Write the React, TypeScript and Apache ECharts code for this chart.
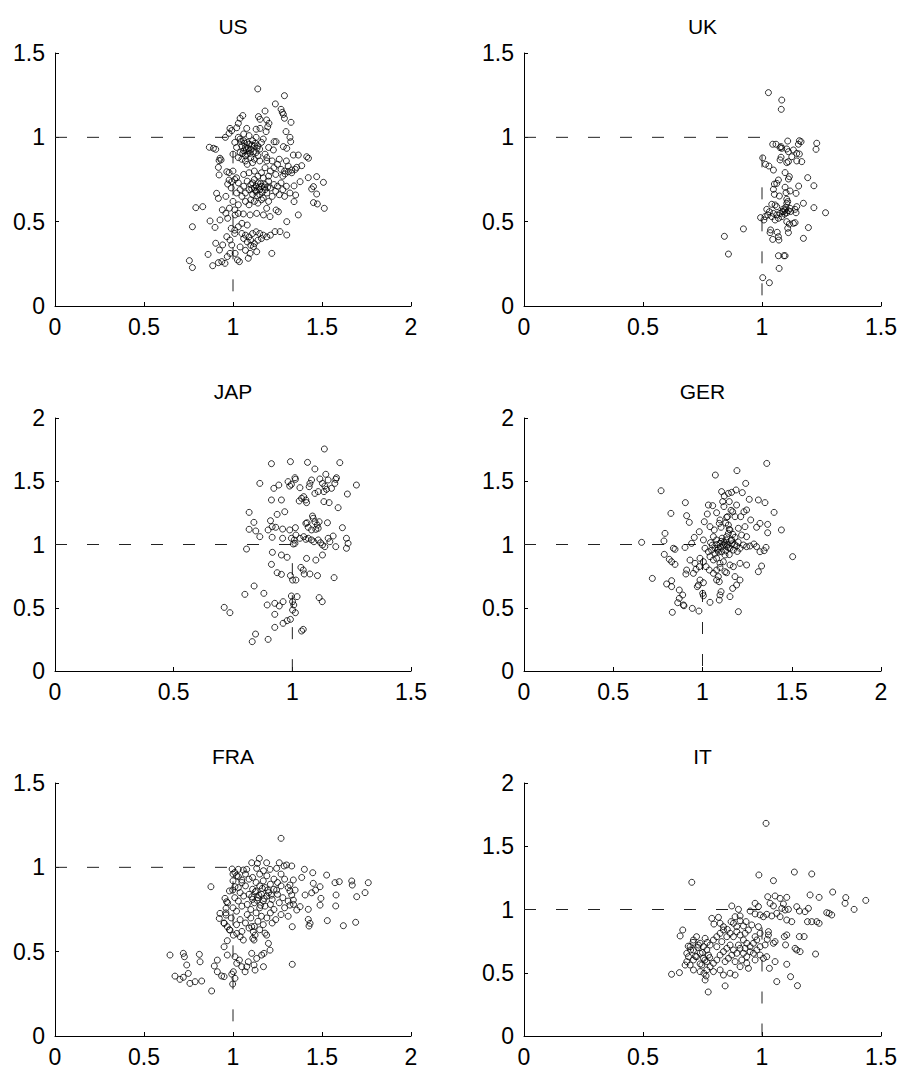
import React, { useEffect, useRef } from "react";
import * as echarts from "echarts";

const panelTitles = ["US", "UK", "JAP", "GER", "FRA", "IT"];
const xMaxes = [2, 1.5, 1.5, 2, 2, 1.5];
const yMaxes = [1.5, 1.5, 2, 2, 1.5, 2];
const tickStep = 0.5;
const refLine = [[0, 1], [1, 1], [1, 0]];

const usPoints = [
  [1.139,1.287],[1.289,1.247],[1.238,1.198],[1.270,1.166],[1.277,1.148],[1.283,1.136],[1.180,1.156],[1.326,1.089],[1.289,1.113],[1.143,1.123],[1.152,1.107],[1.189,1.103],[1.202,1.083],[1.195,1.063],[1.186,1.034],[1.055,1.129],[1.040,1.113],[1.030,1.083],[1.021,1.057],[0.983,1.053],[0.993,1.040],[0.978,1.024],[1.077,1.053],[1.130,1.048],[1.152,1.053],[1.298,1.034],[1.320,1.000],[1.324,0.974],[1.302,0.935],[1.283,0.945],[1.231,0.974],[1.242,0.974],[1.227,0.925],[0.957,1.000],[0.867,0.941],[0.890,0.935],[0.903,0.929],[0.927,0.876],[0.922,0.862],[0.933,0.866],[0.918,0.822],[0.922,0.777],[0.965,0.796],[0.978,0.791],[0.978,0.747],[0.993,0.737],[0.970,0.723],[0.908,0.668],[0.918,0.638],[0.791,0.583],[0.830,0.589],[0.772,0.470],[0.755,0.269],[0.772,0.228],[0.860,0.306],[0.886,0.239],[0.918,0.257],[0.903,0.372],[0.942,0.362],[0.924,0.332],[0.871,0.504],[0.899,0.466],[0.927,0.510],
  [1.04,0.99],[1.06,0.98],[1.08,0.97],[1.05,0.95],[1.07,0.94],[1.09,0.96],[1.10,0.93],[1.12,0.95],[1.11,0.98],[1.13,0.91],[1.06,0.92],[1.08,0.90],[1.04,0.91],[1.02,0.94],[1.03,0.88],[1.05,0.87],[1.07,0.86],[1.10,0.88],[1.12,0.87],[1.14,0.89],[1.15,0.93],[1.16,0.97],[1.13,1.00],[1.09,1.01],[1.06,1.02],[1.01,0.97],[1.00,0.90],[1.08,0.84],[1.11,0.85],[1.15,0.86],[1.18,0.90],[1.20,0.94],[1.17,0.99],[1.03,1.00],[1.09,0.92],[1.07,0.89],[1.14,0.95],[1.19,0.86],
  [1.065,0.965],[1.085,0.935],[1.095,0.905],[1.115,0.915],[1.055,0.905],[1.075,0.925],[1.125,0.965],[1.045,0.975],[1.105,0.955],[1.135,0.935],
  [1.19,0.88],[1.22,0.86],[1.25,0.84],[1.23,0.82],[1.27,0.81],[1.29,0.80],[1.31,0.83],[1.26,0.87],[1.21,0.80],[1.18,0.82],[1.16,0.79],[1.24,0.78],[1.28,0.77],[1.33,0.79],[1.35,0.81],[1.30,0.86],[1.20,0.77],
  [1.08,0.74],[1.10,0.72],[1.12,0.70],[1.14,0.73],[1.16,0.71],[1.18,0.69],[1.13,0.68],[1.11,0.66],[1.09,0.69],[1.07,0.67],[1.06,0.71],[1.15,0.66],[1.17,0.64],[1.19,0.67],[1.21,0.70],[1.23,0.72],[1.20,0.74],[1.17,0.76],[1.14,0.77],[1.12,0.75],[1.10,0.63],[1.12,0.62],[1.14,0.61],[1.16,0.63],[1.22,0.65],[1.24,0.68],[1.26,0.66],[1.25,0.71],[1.27,0.73],[1.18,0.72],[1.15,0.69],[1.13,0.71],[1.11,0.73],[1.05,0.65],[1.04,0.69],[1.07,0.62],[1.09,0.60],[1.20,0.62],[1.28,0.69],[1.30,0.71],[1.29,0.65],[1.32,0.67],[1.03,0.73],[1.02,0.76],[1.06,0.78],[1.09,0.79],[1.12,0.80],
  [1.125,0.685],[1.145,0.705],[1.165,0.675],[1.135,0.655],[1.155,0.725],[1.105,0.695],[1.175,0.705],[1.195,0.705],
  [1.00,0.80],[1.01,0.75],[0.99,0.70],[1.02,0.67],[1.00,0.62],[0.98,0.58],[1.01,0.57],[1.03,0.60],[0.96,0.65],
  [1.423,0.761],[1.470,0.767],[1.508,0.733],[1.452,0.708],[1.442,0.694],[1.470,0.664],[1.452,0.613],[1.474,0.605],[1.513,0.579],[1.367,0.540],[1.343,0.712],[1.377,0.737],[1.352,0.658],[1.343,0.619],[1.414,0.885],[1.424,0.876],[1.367,0.895],[1.339,0.895],[1.386,0.832],[1.358,0.822],[1.330,0.806],[1.311,0.796],[1.292,0.783],
  [1.218,0.312],[1.302,0.500],[1.302,0.421],[1.264,0.441],[1.236,0.441],[1.255,0.559],[1.242,0.569],[1.189,0.579],[1.208,0.530],[1.171,0.540],[1.133,0.549],[1.096,0.540],[1.058,0.546],[1.030,0.549],[1.012,0.540],[0.965,0.411],[0.983,0.391],[0.993,0.362],[1.012,0.312],[1.025,0.273],[1.036,0.263],[0.983,0.312],[0.968,0.293],[0.937,0.263],[0.955,0.253],[1.086,0.283],[1.096,0.312],[1.133,0.322],[1.115,0.352],
  [1.05,0.43],[1.07,0.42],[1.09,0.41],[1.11,0.43],[1.13,0.44],[1.15,0.43],[1.17,0.42],[1.19,0.41],[1.21,0.42],[1.06,0.40],[1.08,0.38],[1.10,0.36],[1.12,0.37],[1.14,0.39],[1.10,0.39],[1.16,0.40],[1.01,0.45],[0.99,0.46],[1.03,0.47],[1.05,0.49],[1.08,0.48],[1.01,0.43],[1.04,0.35],[1.07,0.33],
  [0.96,0.55],[0.97,0.52],[0.94,0.57]
];

const ukPoints = [
  [1.027,1.265],[1.083,1.221],[1.081,1.166],[1.045,0.959],[1.059,0.959],[1.076,0.939],[1.083,0.935],[1.080,0.945],[1.108,0.978],[1.157,0.980],[1.164,0.974],[1.153,0.959],[1.230,0.965],[1.227,0.929],[1.132,0.925],[1.146,0.905],[1.157,0.901],[1.104,0.931],[1.111,0.915],[1.080,0.882],[1.076,0.866],[1.104,0.850],[1.111,0.856],[1.125,0.885],[1.146,0.860],[1.167,0.856],[1.003,0.878],[1.015,0.840],[1.029,0.830],[1.048,0.806],[1.097,0.791],[1.115,0.767],[1.111,0.753],[1.069,0.747],[1.062,0.727],[1.052,0.723],[1.048,0.692],[1.192,0.761],[1.218,0.713],[1.154,0.711],[1.097,0.704],[1.101,0.672],[1.118,0.682],[1.143,0.668],[1.052,0.662],[1.073,0.652],[1.104,0.633],[1.108,0.619],[1.104,0.609],[1.174,0.609],[1.218,0.583],[1.267,0.553],[1.146,0.589],[1.139,0.573],[1.041,0.603],[1.055,0.599],[1.062,0.589],
  [1.020,0.573],[1.031,0.559],[1.048,0.549],[1.062,0.540],[1.076,0.549],[1.090,0.559],[1.097,0.569],[1.104,0.553],[1.111,0.565],[1.118,0.579],[1.083,0.530],[1.069,0.520],[1.055,0.510],[1.041,0.530],[1.024,0.540],[1.013,0.530],[0.994,0.524],[1.008,0.510],[1.143,0.553],
  [1.104,0.500],[1.115,0.486],[1.132,0.490],[1.139,0.494],[1.108,0.461],[1.111,0.435],[1.195,0.465],[1.174,0.401],[1.036,0.451],[1.034,0.435],[1.064,0.437],[1.069,0.411],[1.071,0.391],[1.045,0.395],[0.922,0.457],[0.842,0.413],[0.859,0.308],[1.069,0.298],[1.092,0.298],[1.097,0.298],[1.072,0.223],[1.003,0.168],[1.031,0.138],
  [1.090,0.575],[1.100,0.585],[1.085,0.560],[1.095,0.545],[1.120,0.560]
];

const japPoints = [
  [1.135,1.755],[0.912,1.639],[0.992,1.655],[1.064,1.649],[1.200,1.647],[1.095,1.597],[1.141,1.555],[1.011,1.528],[1.013,1.515],[0.982,1.497],[0.989,1.462],[0.996,1.475],[1.032,1.449],[1.074,1.483],[1.081,1.510],[1.071,1.457],[1.116,1.518],[1.127,1.483],[1.137,1.462],[1.144,1.436],[1.133,1.418],[1.151,1.510],[1.165,1.444],[1.179,1.483],[1.186,1.528],[1.183,1.515],[1.270,1.470],[1.232,1.399],[0.863,1.483],[0.922,1.444],[0.943,1.470],[0.912,1.352],[0.954,1.352],[1.029,1.344],[1.039,1.365],[1.057,1.352],[1.060,1.331],[1.048,1.378],[1.133,1.339],[1.155,1.331],[1.193,1.291],[1.109,1.418],[1.095,1.404],
  [0.818,1.254],[0.936,1.238],[0.968,1.259],[0.838,1.175],[0.818,1.120],[0.846,1.107],[0.863,1.062],[0.908,1.188],[0.915,1.141],[0.898,1.115],[0.930,1.136],[0.959,1.122],[0.989,1.115],[1.013,1.133],[0.915,1.057],[0.959,1.049],[0.996,1.049],[1.008,1.035],[1.011,1.009],[1.004,1.004],[1.015,1.075],
  [1.057,1.167],[1.062,1.172],[1.085,1.225],[1.088,1.207],[1.095,1.180],[1.105,1.154],[1.113,1.180],[1.109,1.128],[1.099,1.120],[1.081,1.115],[1.067,1.136],[1.148,1.172],[1.211,1.133],
  [1.032,1.049],[1.048,1.062],[1.057,1.041],[1.067,1.049],[1.081,1.036],[1.091,1.022],[1.109,1.036],[1.119,1.014],[1.127,0.996],[1.137,0.983],[1.151,1.049],[1.158,1.022],[1.172,1.067],[1.183,0.983],[1.228,1.049],[1.235,1.009],[1.228,0.970],
  [0.807,0.964],[0.916,0.938],[0.954,0.917],[0.978,0.899],[0.912,0.843],[1.060,0.890],[1.099,0.877],[1.127,0.917],[0.936,0.777],[0.954,0.764],[0.992,0.754],[1.001,0.719],[1.015,0.719],[1.036,0.819],[1.046,0.798],[1.050,0.767],[1.074,0.767],[1.106,0.754],[1.176,0.738],
  [0.839,0.672],[0.800,0.606],[0.880,0.614],[1.113,0.580],[1.126,0.548],[0.713,0.503],[0.737,0.461],[0.894,0.522],[0.926,0.535],[0.945,0.514],[0.961,0.548],[0.996,0.593],[1.020,0.588],[1.001,0.548],[1.006,0.522],[1.001,0.482],[0.926,0.448],[0.961,0.377],[0.978,0.398],[0.992,0.408],[1.013,0.461],[0.926,0.345],[1.039,0.316],[1.046,0.329],[0.845,0.292],[0.831,0.232],[0.898,0.250]
];

const gerPoints = [
  [1.360,1.641],[1.193,1.584],[1.072,1.549],[1.242,1.483],[0.768,1.425],[1.107,1.418],[1.122,1.383],[1.145,1.404],[1.163,1.412],[1.188,1.431],[1.223,1.410],[1.262,1.357],[1.313,1.352],[1.350,1.331],[0.904,1.331],[1.033,1.312],[1.057,1.307],[1.113,1.339],[1.150,1.339],[1.191,1.312],[1.401,1.254],[1.442,1.115],[0.823,1.246],[0.911,1.228],[0.926,1.175],
  [1.027,1.241],[1.079,1.251],[1.098,1.194],[1.135,1.215],[1.169,1.259],[1.182,1.220],[1.214,1.220],[1.232,1.259],[1.247,1.273],[1.270,1.194],[1.303,1.136],[1.322,1.167],[1.365,1.159],[1.365,1.093],
  [1.010,1.180],[1.042,1.141],[1.066,1.115],[1.094,1.167],[1.104,1.136],[1.145,1.154],[1.154,1.115],[1.201,1.128],[1.238,1.141],
  [0.790,1.088],[0.784,1.028],[0.659,1.017],[0.982,1.101],[1.005,1.036],[0.954,1.056],[0.939,1.009],[0.902,0.977],[0.837,0.970],[0.846,0.962],
  [1.061,1.062],[1.079,1.036],[1.098,1.009],[1.117,0.996],[1.135,0.983],[1.154,0.970],[1.173,0.956],[1.191,0.988],[1.210,0.970],[1.229,0.996],[1.247,0.983],[1.266,0.988],[1.288,1.004],[1.303,0.983],[1.322,0.943],[1.345,0.951],[1.356,0.977],
  [1.135,1.062],[1.145,1.088],[1.132,1.036],[1.163,1.036],[1.182,1.057],[1.219,1.075],[1.247,1.062],[1.505,0.904],
  [1.014,0.970],[1.033,0.943],[1.051,0.956],[1.070,0.930],[1.089,0.970],[1.107,0.943],[1.126,0.917],[1.042,0.904],[1.061,0.878],[1.079,0.891],[1.098,0.851],[1.117,0.864],
  [0.786,0.922],[0.814,0.883],[0.827,0.864],[0.846,0.843],[0.930,0.877],[0.958,0.851],[0.986,0.891],[1.005,0.864],[0.982,0.825],[0.964,0.804],[0.911,0.798],[0.907,0.767],[0.949,0.772],
  [1.020,0.825],[1.038,0.798],[1.061,0.772],[1.079,0.798],[1.098,0.819],[1.126,0.785],[1.135,0.777],[1.154,0.838],[1.173,0.825],[1.210,0.851],[1.247,0.838],[1.331,0.830],[1.313,0.785],
  [0.719,0.732],[0.799,0.688],[0.827,0.714],[0.827,0.667],[0.986,0.719],[1.005,0.698],[0.977,0.680],[0.971,0.667],[1.089,0.746],[1.079,0.719],[1.094,0.706],[1.182,0.746],[1.210,0.719],[1.191,0.680],[1.169,0.653],
  [0.870,0.640],[0.889,0.601],[0.870,0.574],[0.861,0.540],[0.893,0.522],[0.896,0.516],[1.001,0.614],[1.005,0.595],[1.104,0.627],[1.098,0.601],[1.094,0.561],[1.154,0.588],[1.042,0.543],[0.831,0.464],[0.943,0.495],[0.980,0.474],[1.201,0.469],
  [1.08,1.00],[1.10,0.98],[1.12,1.02],[1.14,1.00],[1.16,1.03],[1.11,1.05],[1.13,0.95],[1.15,0.92],[1.07,0.97],[1.18,1.00],[1.20,1.02],[1.09,0.94],[1.17,1.08],[1.15,1.12],[1.13,1.17],[1.14,1.22],[1.16,1.27],[1.12,1.30],
  [1.055,0.995],[1.125,1.005],[1.145,0.975],[1.105,1.025],[1.165,1.005],[1.085,0.955],[1.195,0.945],[1.045,1.015]
];

const fraPoints = [
  [1.270,1.172],[1.148,1.053],[1.189,1.027],[1.137,1.023],[1.105,1.027],[1.245,0.994],[1.260,1.027],[1.287,1.008],[1.330,1.008],[1.301,1.014],[1.030,0.988],[1.058,0.984],[1.077,0.988],[1.133,0.994],[1.171,0.980],[1.208,0.988],
  [1.401,0.988],[1.448,0.968],[1.386,0.940],[1.526,0.954],[1.573,0.909],[1.597,0.915],[1.667,0.919],[1.670,0.895],[1.760,0.909],[0.876,0.885],
  [1.451,0.905],[1.489,0.885],[1.464,0.865],[1.442,0.849],[1.494,0.816],[1.489,0.776],[1.579,0.836],[1.577,0.771],[1.695,0.826],[1.742,0.850],[1.530,0.684],[1.620,0.654],[1.689,0.674],[1.423,0.691],[1.433,0.668],[1.427,0.652],
  [1.339,0.925],[1.320,0.895],[1.349,0.865],[1.330,0.836],[1.339,0.806],[1.320,0.776],[1.358,0.747],[1.377,0.767],[1.405,0.836],[1.423,0.751],[1.333,0.648],[1.333,0.425],
  [1.02,0.95],[1.07,0.96],[1.11,0.94],[1.15,0.96],[1.19,0.95],[1.23,0.93],[1.27,0.96],
  [1.00,0.92],[1.05,0.91],[1.09,0.93],[1.13,0.91],[1.17,0.92],[1.21,0.90],[1.25,0.91],[1.29,0.93],
  [1.03,0.88],[1.07,0.89],[1.11,0.87],[1.15,0.89],[1.18,0.88],[1.23,0.87],[1.27,0.89],[1.31,0.88],
  [0.98,0.86],[1.04,0.85],[1.09,0.84],[1.13,0.86],[1.16,0.84],[1.20,0.85],[1.25,0.84],[1.32,0.86],
  [1.01,0.82],[1.06,0.83],[1.11,0.81],[1.14,0.82],[1.19,0.83],[1.22,0.81],[1.28,0.82],
  [0.97,0.79],[1.03,0.80],[1.08,0.78],[1.12,0.79],[1.17,0.80],[1.21,0.78],[1.26,0.79],[1.31,0.80],
  [1.00,0.76],[1.05,0.77],[1.10,0.75],[1.15,0.76],[1.18,0.77],[1.23,0.75],[1.29,0.76],[1.34,0.78],
  [0.96,0.73],[1.02,0.74],[1.08,0.72],[1.13,0.73],[1.16,0.71],[1.21,0.73],[1.27,0.72],
  [0.99,0.70],[1.04,0.69],[1.10,0.70],[1.14,0.68],[1.19,0.70],[1.24,0.69],[1.31,0.71],
  [0.95,0.67],[1.02,0.66],[1.07,0.67],[1.12,0.65],[1.17,0.66],[1.22,0.67],
  [0.98,0.63],[1.05,0.62],[1.09,0.64],[1.15,0.63],[1.18,0.61],
  [1.125,0.855],[1.145,0.835],[1.165,0.875],[1.135,0.805],[1.105,0.825],[1.175,0.815],[1.155,0.775],[1.195,0.865],[1.215,0.835],[1.245,0.865],
  [0.995,0.99],[1.00,0.96],[1.01,0.97],
  [0.646,0.480],[0.721,0.490],[0.727,0.470],[0.740,0.421],[0.811,0.484],[0.815,0.440],[0.674,0.355],[0.702,0.336],[0.721,0.348],[0.749,0.371],[0.758,0.312],[0.787,0.322],[0.824,0.326],[0.880,0.267],
  [0.912,0.450],[0.895,0.415],[0.912,0.381],[0.936,0.356],[0.950,0.352],[0.968,0.480],[0.993,0.367],[1.002,0.381],[1.011,0.342],[0.998,0.308],
  [0.950,0.529],[0.968,0.565],[1.011,0.470],[1.021,0.431],[1.036,0.450],[1.049,0.411],[1.068,0.381],[1.077,0.411],[1.086,0.440],[1.105,0.490],[1.118,0.421],[1.124,0.391],[1.133,0.460],[1.171,0.411],[1.161,0.480],[1.174,0.490],[1.208,0.509],[1.199,0.549],[1.189,0.598],
  [0.927,0.727],[0.923,0.697],[0.961,0.717],[0.950,0.668],[0.968,0.648],[0.983,0.628],[1.002,0.598],[1.021,0.608],[1.040,0.589],[1.058,0.569],
  [1.105,0.648],[1.114,0.618],[1.124,0.598],[1.111,0.579],[1.118,0.569],
  [1.030,0.944],[1.049,0.925],[1.011,0.885],[0.998,0.865],[0.955,0.816],[0.964,0.796],[0.961,0.757]
];

const itPoints = [
  [1.017,1.681],[0.705,1.215],[0.987,1.273],[1.048,1.228],[1.136,1.296],[1.209,1.281],[1.297,1.138],[1.352,1.094],[1.349,1.049],[1.387,1.001],[1.436,1.072],[1.202,1.115],[1.240,1.096],
  [1.024,1.101],[1.055,1.107],[1.076,1.088],[1.104,1.096],[0.971,1.049],[0.985,1.023],[1.034,1.049],[1.048,1.028],[1.090,1.044],[1.083,1.009],[1.097,0.996],[1.111,1.001],[1.146,1.022],[1.157,0.988],[1.181,0.983],[1.195,1.009],
  [1.272,0.975],[1.282,0.970],[1.293,0.957],[1.191,0.904],[1.209,0.904],[1.230,0.904],[1.240,0.891],
  [0.873,1.028],[0.901,1.001],[0.908,0.949],[0.887,0.943],[0.950,0.988],[0.971,0.965],[0.992,0.957],[1.006,0.943],[1.020,0.962],[1.041,0.949],[1.062,0.970],[1.076,0.943],[1.104,0.917],[1.125,0.904],
  [0.789,0.930],[0.817,0.938],[0.798,0.885],[0.870,0.904],[0.908,0.912],[0.933,0.904],[0.922,0.870],[0.957,0.878],[0.667,0.838],[0.656,0.791],
  [1.027,0.825],[1.027,0.799],[1.022,0.764],[1.013,0.720],[1.104,0.799],[1.094,0.786],[1.055,0.746],[1.048,0.733],[1.099,0.720],[1.139,0.693],[1.146,0.680],[1.160,0.667],[1.157,0.786],[1.177,0.786],[1.225,0.648],
  [1.020,0.627],[1.055,0.588],[1.031,0.535],[1.104,0.567],[1.062,0.430],[1.120,0.469],[1.149,0.398],[0.620,0.488],[0.653,0.501],[0.774,0.348],[0.845,0.396],[0.761,0.443],[0.765,0.475],[0.756,0.496],
  [0.684,0.654],[0.698,0.706],[0.712,0.759],[0.725,0.785],[0.740,0.733],[0.754,0.706],[0.768,0.680],[0.782,0.719],[0.796,0.759],[0.810,0.785],[0.824,0.812],[0.838,0.838],[0.852,0.785],[0.866,0.812],[0.880,0.785],[0.894,0.825],[0.908,0.798],[0.922,0.759],[0.936,0.733],[0.950,0.706],[0.964,0.733],[0.978,0.759],
  [0.684,0.588],[0.698,0.561],[0.712,0.601],[0.725,0.627],[0.740,0.654],[0.754,0.614],[0.768,0.588],[0.782,0.548],[0.796,0.575],[0.810,0.601],[0.824,0.640],[0.838,0.667],[0.852,0.693],[0.866,0.719],[0.880,0.680],[0.894,0.654],[0.908,0.693],[0.922,0.654],[0.936,0.627],[0.950,0.667],[0.964,0.654],[0.978,0.680],[0.992,0.706],
  [0.712,0.522],[0.740,0.509],[0.768,0.522],[0.796,0.509],[0.824,0.522],[0.838,0.482],[0.866,0.496],[0.887,0.482],[0.908,0.548],[0.936,0.575],
  [0.712,0.680],[0.733,0.719],[0.761,0.772],[0.831,0.746],[0.859,0.614],[0.887,0.588],[0.915,0.601],[0.943,0.535],[0.677,0.561],[0.691,0.627],[0.747,0.561],[0.775,0.640],[0.810,0.706],[0.845,0.588],[0.873,0.640],[0.901,0.719],[0.929,0.693],[0.971,0.601],[0.992,0.640],[1.006,0.614],
  [0.73,0.70],[0.75,0.66],[0.72,0.63],[0.76,0.60],[0.70,0.68],[0.74,0.57],[0.78,0.62],[0.71,0.74],[0.69,0.71],[0.77,0.74],
  [0.838,0.864],[0.854,0.843],[0.894,0.864],[0.880,0.891],[0.824,0.891],[0.943,0.838],[0.929,0.812],[0.985,0.864],[0.992,0.812],[0.971,0.785]
];

const panelPoints = [usPoints, ukPoints, japPoints, gerPoints, fraPoints, itPoints];

const FONT = "Liberation Sans, Arial, sans-serif";

export default function App() {
  const ref = useRef<HTMLDivElement>(null);

  useEffect(() => {
    if (!ref.current) return;
    const chart = echarts.init(ref.current, null, { renderer: "svg" });

    const colLeft = [55, 524];
    const colWidth = [356, 357];
    const rowTop = [53, 418, 783];
    const plotH = 253;

    const grids: any[] = [];
    const xAxes: any[] = [];
    const yAxes: any[] = [];
    const series: any[] = [];
    const titles: any[] = [];

    panelTitles.forEach((title, i) => {
      const col = i % 2;
      const row = Math.floor(i / 2);
      const left = colLeft[col];
      const top = rowTop[row];
      const width = colWidth[col];
      grids.push({ left, top, width, height: plotH, containLabel: false });
      const axisCommon = {
        type: "value",
        gridIndex: i,
        min: 0,
        interval: tickStep,
        splitLine: { show: false },
        axisLine: { show: true, onZero: false, lineStyle: { color: "#000", width: 1 } },
        axisTick: { show: true, inside: true, length: 4, lineStyle: { color: "#000", width: 1 } },
        axisLabel: { color: "#000", fontSize: 23, fontFamily: FONT, margin: 9 },
      };
      xAxes.push({ ...axisCommon, max: xMaxes[i] });
      yAxes.push({ ...axisCommon, max: yMaxes[i], axisLabel: { ...axisCommon.axisLabel, margin: 10 } });
      series.push({
        type: "line",
        xAxisIndex: i,
        yAxisIndex: i,
        data: refLine,
        symbol: "none",
        silent: true,
        lineStyle: { color: "#222", width: 1, type: [12, 20] },
        z: 1,
      });
      series.push({
        type: "scatter",
        xAxisIndex: i,
        yAxisIndex: i,
        data: panelPoints[i],
        symbol: "circle",
        symbolSize: 6,
        silent: true,
        itemStyle: { color: "rgba(0,0,0,0)", borderColor: "#000", borderWidth: 1 },
        z: 2,
      });
      titles.push({
        text: title,
        left: left + width / 2,
        top: top - 37,
        textAlign: "center",
        padding: 0,
        textStyle: {
          fontSize: 21,
          fontWeight: "normal",
          fontFamily: FONT,
          color: "#000",
        },
      });
    });

    chart.setOption({
      animation: false,
      backgroundColor: "#fff",
      title: titles,
      grid: grids,
      xAxis: xAxes,
      yAxis: yAxes,
      series,
    });

    return () => chart.dispose();
  }, []);

  return (
    <div
      ref={ref}
      style={{ position: "fixed", left: 0, top: 0, width: 904, height: 1073, background: "#fff" }}
    />
  );
}
